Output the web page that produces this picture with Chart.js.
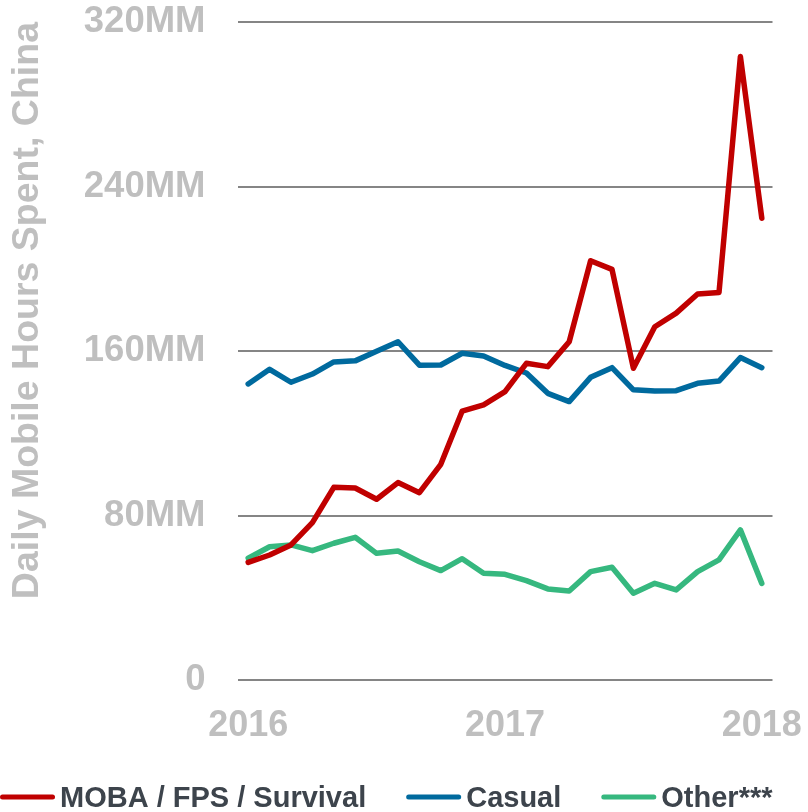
<!DOCTYPE html>
<html>
<head>
<meta charset="utf-8">
<title>Daily Mobile Hours Spent, China</title>
<script src="https://cdn.jsdelivr.net/npm/chart.js@4/dist/chart.umd.min.js"></script>
<style>
  html, body { margin: 0; padding: 0; background: #ffffff; }
  #wrap { width: 808px; height: 812px; }
</style>
</head>
<body>
<div id="wrap"><canvas id="chart" width="808" height="812"></canvas></div>
<script>
// Monthly points, Jan 2016 .. Jan 2018
const months = [
  '2016-01','2016-02','2016-03','2016-04','2016-05','2016-06','2016-07','2016-08','2016-09','2016-10','2016-11','2016-12',
  '2017-01','2017-02','2017-03','2017-04','2017-05','2017-06','2017-07','2017-08','2017-09','2017-10','2017-11','2017-12',
  '2018-01'
];

// Daily hours spent, in millions
const mobaFpsSurvival = [57.2, 60.8, 65.7, 76.5, 93.7, 93.4, 87.9, 96.0, 91.1, 104.9, 130.8, 133.8,
                         140.2, 154.0, 152.4, 164.5, 203.9, 199.7, 151.6, 171.8, 178.4, 187.7, 188.4, 303.2,
                         224.6];
const casual = [144.0, 151.1, 144.8, 148.8, 154.7, 155.2, 159.9, 164.5, 153.1, 153.2, 158.9, 157.6,
                153.0, 149.3, 139.4, 135.4, 147.2, 151.9, 141.1, 140.6, 140.7, 144.3, 145.4, 156.8,
                151.9];
const other = [59.2, 64.8, 65.7, 62.9, 66.5, 69.4, 61.6, 62.7, 57.5, 53.2, 59.0, 51.9,
               51.4, 48.3, 44.3, 43.3, 52.7, 54.8, 42.2, 47.0, 43.8, 52.7, 58.4, 73.0,
               47.0];

const seriesNames = ['MOBA / FPS / Survival', 'Casual', 'Other***'];
const yTickValues = [0, 80, 160, 240, 320];
const yTickSuffix = 'MM';
const yAxisTitle = 'Daily Mobile Hours Spent, China';

const FONT = "'Liberation Sans', Arial, Helvetica, sans-serif";
const GREY = '#bfbfbf';

// Legend drawn below the axis: short line swatch followed by the series name
const lineLegend = {
  id: 'lineLegend',
  afterDraw(chart) {
    const ctx = chart.ctx;
    const y = 797;
    let x = 0;
    ctx.save();
    ctx.font = 'bold 29px ' + FONT;
    ctx.textBaseline = 'alphabetic';
    ctx.textAlign = 'left';
    chart.data.datasets.forEach(ds => {
      ctx.strokeStyle = ds.borderColor;
      ctx.lineWidth = 5;
      ctx.lineCap = 'round';
      ctx.beginPath();
      ctx.moveTo(x + 2.5, y);
      ctx.lineTo(x + 52.5, y);
      ctx.stroke();
      ctx.fillStyle = '#3d444c';
      ctx.fillText(ds.label, x + 60, y + 10);
      x += 60 + ctx.measureText(ds.label).width + 40;
    });
    ctx.restore();
  }
};

function lineSet(label, data, color) {
  return {
    label, data,
    borderColor: color,
    backgroundColor: color,
    borderWidth: 5.5,
    borderCapStyle: 'round',
    borderJoinStyle: 'round',
    pointRadius: 0,
    pointHoverRadius: 0,
    tension: 0,
    fill: false
  };
}

new Chart(document.getElementById('chart'), {
  type: 'line',
  data: {
    labels: months,
    datasets: [
      lineSet(seriesNames[0], mobaFpsSurvival, '#c00000'),
      lineSet(seriesNames[1], casual, '#006a9e'),
      lineSet(seriesNames[2], other, '#36b87f')
    ]
  },
  plugins: [lineLegend],
  options: {
    responsive: false,
    animation: false,
    layout: { padding: { left: 0, right: 35.5, top: 22, bottom: 40.8 } },
    plugins: {
      legend: { display: false },
      tooltip: { enabled: false }
    },
    scales: {
      x: {
        type: 'category',
        offset: true,
        afterFit(scale) { scale.paddingLeft = 0; scale.paddingRight = 0; },
        grid: { display: false, drawTicks: false },
        border: { display: false },
        ticks: {
          autoSkip: false,
          maxRotation: 0,
          padding: 24,
          color: GREY,
          font: { family: FONT, size: 36, weight: 'bold' },
          callback(value, index) {
            const m = months[index];
            return m.endsWith('-01') ? m.slice(0, 4) : '';
          }
        }
      },
      y: {
        min: 0,
        max: 320,
        afterFit(scale) {
          scale.width = 237.5;
          scale.paddingTop = 0;
          scale.paddingBottom = 0;
        },
        afterBuildTicks(scale) { scale.ticks = yTickValues.map(v => ({ value: v })); },
        grid: { color: '#858585', lineWidth: 2, drawTicks: false },
        border: { display: false },
        ticks: {
          padding: 32,
          color: GREY,
          font: { family: FONT, size: 36.5, weight: 'bold' },
          callback(v) { return v === 0 ? '0' : v + yTickSuffix; }
        },
        title: {
          display: true,
          text: yAxisTitle,
          align: 'end',
          color: GREY,
          padding: { top: 5, bottom: 0 },
          font: { family: FONT, size: 37.5, weight: 'bold' }
        }
      }
    }
  }
});
</script>
</body>
</html>
